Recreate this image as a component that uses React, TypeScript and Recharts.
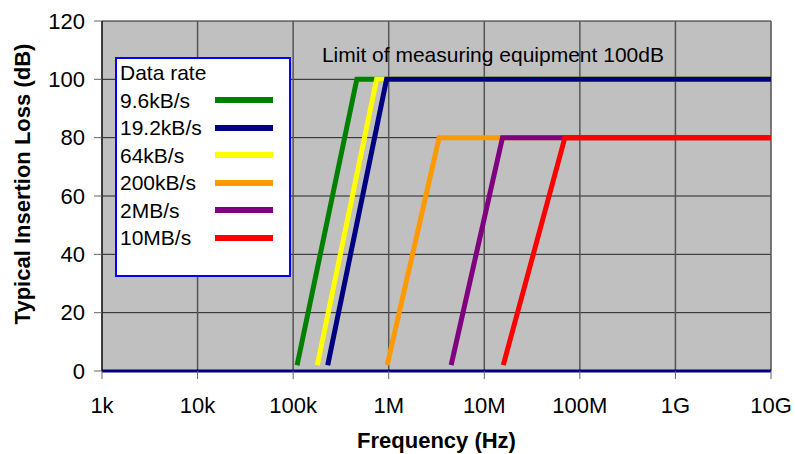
import { LineChart, Line, XAxis, YAxis, CartesianGrid, ReferenceDot, Label } from 'recharts'

// axis ticks
const freqTicks = [1e3, 1e4, 1e5, 1e6, 1e7, 1e8, 1e9, 1e10]
const freqLabels = ['1k', '10k', '100k', '1M', '10M', '100M', '1G', '10G']
const lossTicks = [0, 20, 40, 60, 80, 100, 120]

// series (Hz, dB)
const freq96k = [110e3, 464e3, 1e10]
const loss96k = [2, 100, 100]
const freq192k = [230e3, 950e3, 1e10]
const loss192k = [2, 100, 100]
const freq64k = [179e3, 747e3, 1e10]
const loss64k = [2, 100, 100]
const freq200k = [964e3, 3.37e6, 1e10]
const loss200k = [2, 80, 80]
const freq2M = [4.5e6, 15.5e6, 1e10]
const loss2M = [2, 80, 80]
const freq10M = [15.8e6, 69.7e6, 1e10]
const loss10M = [2, 80, 80]

const rateNames = ['9.6kB/s', '19.2kB/s', '64kB/s', '200kB/s', '2MB/s', '10MB/s']
const rateColors = ['#008000', '#000080', '#ffff00', '#ff9900', '#800080', '#ff0000']

const toPoints = (f: number[], db: number[]) => f.map((v, i) => ({ f: v, db: db[i] }))

// drawn in this order so the overlaps match (navy over yellow, red over purple)
const series = [
  { name: rateNames[0], color: rateColors[0], data: toPoints(freq96k, loss96k) },
  { name: rateNames[2], color: rateColors[2], data: toPoints(freq64k, loss64k) },
  { name: rateNames[1], color: rateColors[1], data: toPoints(freq192k, loss192k) },
  { name: rateNames[3], color: rateColors[3], data: toPoints(freq200k, loss200k) },
  { name: rateNames[4], color: rateColors[4], data: toPoints(freq2M, loss2M) },
  { name: rateNames[5], color: rateColors[5], data: toPoints(freq10M, loss10M) },
]

function RateLegend() {
  return (
    <div
      style={{
        position: 'absolute',
        left: 115,
        top: 57,
        width: 169,
        height: 216,
        border: '2px solid #0000ff',
        background: '#fff',
        paddingLeft: 3,
        fontSize: 21,
        lineHeight: '27.5px',
        color: '#000',
      }}
    >
      <div>Data rate</div>
      {rateNames.map((name, i) => (
        <div key={name} style={{ display: 'flex', alignItems: 'center', height: 27.5 }}>
          <span style={{ width: 95 }}>{name}</span>
          <span style={{ width: 58, height: 6, background: rateColors[i] }} />
        </div>
      ))}
    </div>
  )
}

export default function App() {
  return (
    <div
      style={{
        position: 'absolute',
        left: 0,
        top: 0,
        width: 795,
        height: 454,
        background: '#fff',
        fontFamily: '"Liberation Sans", Arial, sans-serif',
      }}
    >
      <LineChart width={795} height={454} margin={{ top: 21, right: 24, left: 0, bottom: 0 }}>
        <CartesianGrid vertical={false} fill="#c0c0c0" stroke="#222" />
        <CartesianGrid horizontal={false} stroke="#555" strokeWidth={1.5} />
        <XAxis
          dataKey="f"
          type="number"
          scale="log"
          domain={[1e3, 1e10]}
          ticks={freqTicks}
          allowDataOverflow
          tickFormatter={(v: number) => freqLabels[Math.round(Math.log10(v)) - 3]}
          height={83}
          axisLine={{ stroke: '#000080', strokeWidth: 3 }}
          tickLine={{ stroke: '#666' }}
          tickSize={8}
          tickMargin={18}
          tick={{ fill: '#000', fontSize: 22 }}
        >
          <Label
            content={({ viewBox }: any) => (
              <text
                x={viewBox.x + viewBox.width / 2}
                y={448}
                textAnchor="middle"
                fontWeight="bold"
                fontSize={22}
                fill="#000"
              >
                Frequency (Hz)
              </text>
            )}
          />
        </XAxis>
        <YAxis
          type="number"
          domain={[0, 120]}
          ticks={lossTicks}
          width={102}
          axisLine={{ stroke: '#000' }}
          tickLine={{ stroke: '#666' }}
          tickSize={8}
          tickMargin={9}
          tick={{ fill: '#000', fontSize: 22 }}
        >
          <Label
            content={() => (
              <text
                transform="translate(22,184) rotate(-90)"
                textAnchor="middle"
                dominantBaseline="central"
                fontWeight="bold"
                fontSize={22}
                fill="#000"
              >
                Typical Insertion Loss (dB)
              </text>
            )}
          />
        </YAxis>
        {series.map((s) => (
          <Line
            key={s.name}
            data={s.data}
            dataKey="db"
            name={s.name}
            type="linear"
            stroke={s.color}
            strokeWidth={5}
            dot={false}
            activeDot={false}
            isAnimationActive={false}
          />
        ))}
        <ReferenceDot
          x={2e5}
          y={108.5}
          r={0}
          fill="none"
          stroke="none"
          label={{ value: 'Limit of measuring equipment 100dB', position: 'right', offset: 0, fontSize: 21, fill: '#000' }}
        />
      </LineChart>
      <RateLegend />
    </div>
  )
}
